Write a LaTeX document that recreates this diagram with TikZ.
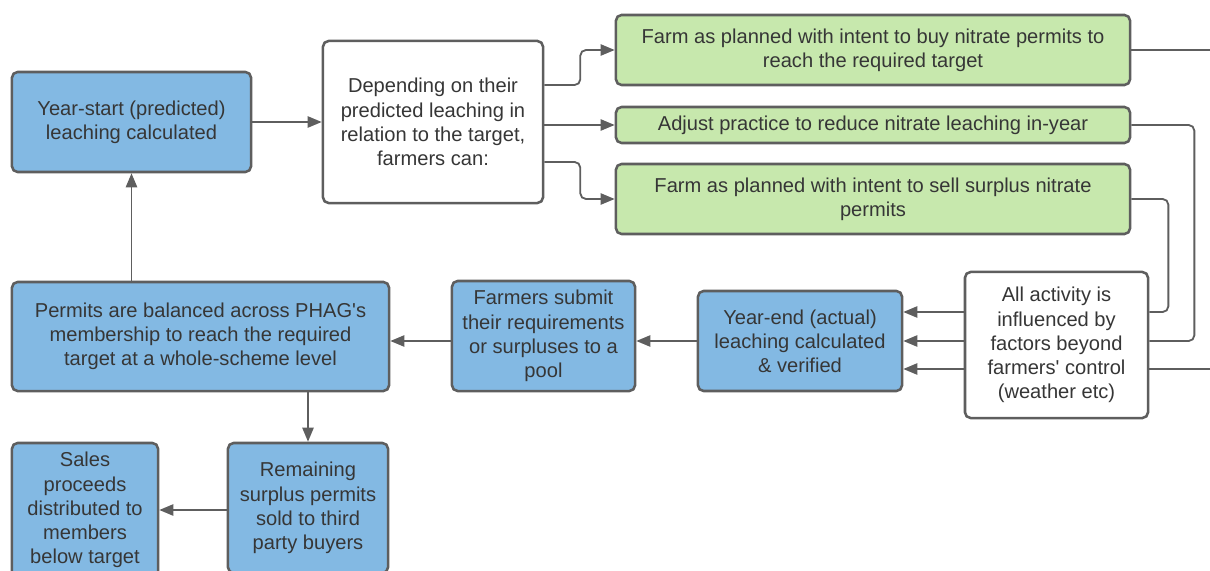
\documentclass[tikz,border=0pt]{standalone}
\usepackage{fontspec}
\setmainfont{Liberation Sans}
\usepackage{tikz}
\usetikzlibrary{arrows.meta}
\definecolor{boxblue}{HTML}{83B9E3}
\definecolor{boxgreen}{HTML}{C7E8AD}
\definecolor{linegray}{HTML}{5E5E5E}
\definecolor{textgray}{HTML}{363636}

\begin{document}
\begin{tikzpicture}[x=0.025cm,y=-0.025cm,>={Triangle[length=10pt,width=8pt]},
  every node/.style={font=\fontsize{14.3}{17.2}\selectfont,text=textgray,align=center,inner sep=0pt},
  box/.style={draw=linegray,line width=1.8pt,rounded corners=4pt},
  bluebox/.style={box,fill=boxblue},
  greenbox/.style={box,fill=boxgreen,minimum width=12.85cm},
  whitebox/.style={box,fill=white},
  link/.style={draw=linegray,line width=1.3pt,rounded corners=4pt}]
  \useasboundingbox (0,0) rectangle (1210,571);
  \clip (0,0) rectangle (1210,571);
  \coordinate (r1) at (0,312);
  \coordinate (r2) at (0,341);
  \coordinate (r3) at (0,369);

  \node[bluebox,minimum width=5.975cm,minimum height=2.5cm] (ystart) at (131.5,122)
    {Year-start (predicted)\\leaching calculated};
  \node[whitebox,minimum width=5.5cm,minimum height=4.05cm] (depend) at (433,122)
    {Depending on their\\predicted leaching in\\relation to the target,\\farmers can:};
  \node[greenbox,minimum height=1.75cm] (buy) at (873,50)
    {Farm as planned with intent to buy nitrate permits to\\reach the required target};
  \node[greenbox,minimum height=0.9cm] (adjust) at (873,125)
    {Adjust practice to reduce nitrate leaching in-year};
  \node[greenbox,minimum height=1.75cm] (sell) at (873,199)
    {Farm as planned with intent to sell surplus nitrate\\permits};
  \node[whitebox,minimum width=4.575cm,minimum height=3.65cm] (allact) at (1056.5,345)
    {All activity is\\influenced by\\factors beyond\\farmers\textquotesingle{} control\\(weather etc)};
  \node[bluebox,minimum width=5.1cm,minimum height=2.5cm] (yearend) at (800,341)
    {Year-end (actual)\\leaching calculated\\\& verified};
  \node[bluebox,minimum width=4.575cm,minimum height=2.75cm] (submit) at (543.5,336)
    {Farmers submit\\their requirements\\or surpluses to a\\pool};
  \node[bluebox,minimum width=9.425cm,minimum height=2.725cm] (balance) at (200.5,336.5)
    {Permits are balanced across PHAG\textquotesingle s\\membership to reach the required\\target at a whole-scheme level};
  \node[bluebox,minimum width=4cm,minimum height=3.25cm] (remain) at (308,508)
    {Remaining\\surplus permits\\sold to third\\party buyers};
  \node[bluebox,minimum width=3.65cm,minimum height=3.35cm] (sales) at (85,510)
    {Sales\\proceeds\\distributed to\\members\\below target};
  \coordinate (buyout) at (1215,50);
  \coordinate (actout) at (1215,369);

  \path[->,every edge/.append style={link}]
    (ystart) edge (depend)
    (depend.east |- adjust.west) edge (adjust.west)
    (allact.west |- r1) edge (yearend.east |- r1)
    (allact.west |- r2) edge (yearend.east |- r2)
    (allact.west |- r3) edge (yearend.east |- r3)
    (yearend.west) edge (submit.east |- r2)
    (submit.west |- r2) edge (balance.east |- r2)
    (balance.north -| ystart.south) edge (ystart.south)
    (balance.south -| remain.north) edge (remain.north)
    (remain.west |- sales.east) edge (sales.east)
  ;
  \draw[link,->] (depend.east) ++(0,-37) -- ++(36,0) |- (buy.west);
  \draw[link,->] (depend.east) ++(0,40) -- ++(36,0) |- (sell.west);
  \draw[link] (buy.east) -- (buyout);
  \draw[link] (adjust.east) -- ++(63,0) |- (allact.east |- r2);
  \draw[link] (sell.east) -- ++(37,0) |- (allact.east |- r1);
  \draw[link] (allact.east |- r3) -- (actout);
\end{tikzpicture}
\end{document}
